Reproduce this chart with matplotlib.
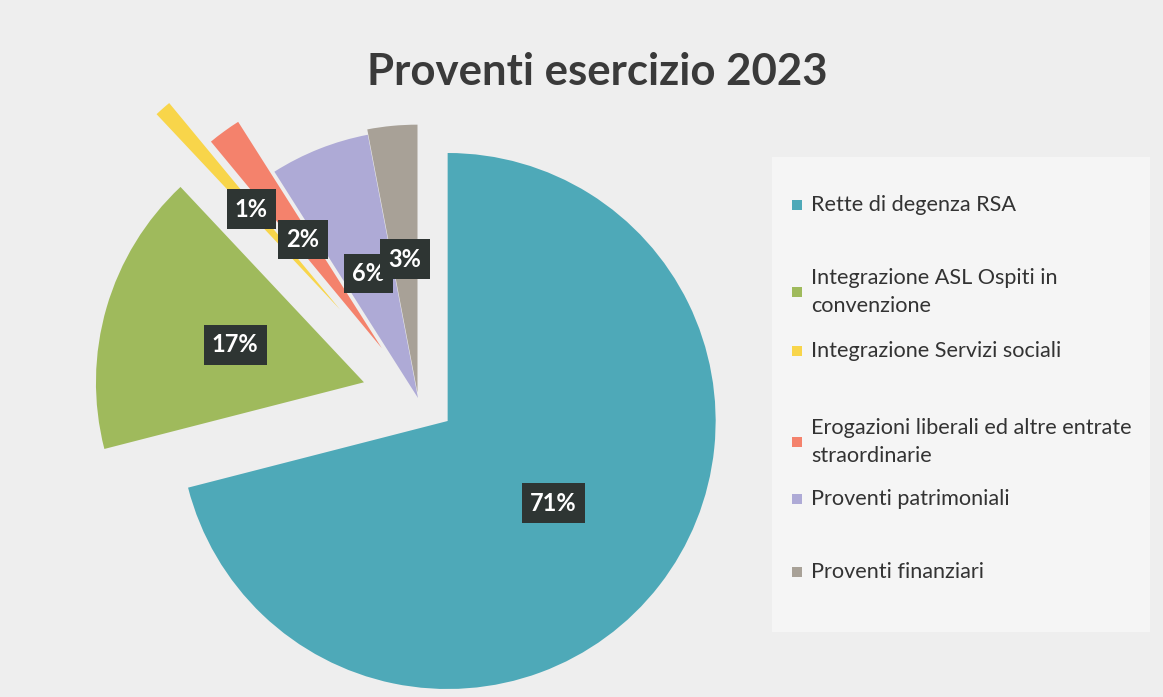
import matplotlib.pyplot as plt
from matplotlib.patches import Rectangle

# dati
labels = ['Rette di degenza RSA',
          'Integrazione ASL Ospiti in\nconvenzione',
          'Integrazione Servizi sociali',
          'Erogazioni liberali ed altre entrate\nstraordinarie',
          'Proventi patrimoniali',
          'Proventi finanziari']
values = [71, 17, 1, 2, 6, 3]
explode = [0.14, 0.21, 0.44, 0.23, 0.0, 0.02]
colors = ['#4ea9b8', '#9fba5c', '#f8d54a', '#f4826c', '#aeaad6', '#a8a197']

# layout legenda (pixel dall'alto)
legend_y = [205, 292, 351, 442, 499, 572]

W, H = 1163, 697
R = 268
fig = plt.figure(figsize=(W / 100, H / 100), dpi=100)
fig.patch.set_facecolor('#eeeeee')

ax = fig.add_axes([0, 0, 1, 1])
ax.set_facecolor('none')

# pannello legenda leggermente più chiaro
ax.add_patch(Rectangle((772, H - 632), 378, 475, facecolor='#f5f5f5',
                       edgecolor='none', zorder=0))

# explode in matplotlib è in unità dati -> scalato sul raggio
wedges, texts, autotexts = ax.pie(
    values, explode=[e * R for e in explode], colors=colors, startangle=90,
    counterclock=False, center=(418, H - 398), radius=R, autopct='%1.0f%%',
    pctdistance=0.5, frame=True, wedgeprops=dict(linewidth=0),
    textprops=dict(color='white', fontsize=17, fontweight='bold', family='Lato'))

for t in autotexts:
    t.set_bbox(dict(boxstyle='square,pad=0.35', facecolor='#2e3533',
                    edgecolor='none'))

ax.set_xlim(0, W)
ax.set_ylim(0, H)
ax.set_aspect('equal')
ax.axis('off')

# legenda
for w, lab, y in zip(wedges, labels, legend_y):
    ax.add_patch(Rectangle((792, H - y - 5), 10, 10,
                           facecolor=w.get_facecolor(), edgecolor='none'))
    ax.text(811, H - y, lab, fontsize=15.6, family='Lato', color='#333333',
            va='center', ha='left', linespacing=1.5)

fig.text(597 / W, 1 - 72 / H, 'Proventi esercizio 2023', fontsize=31.5,
         fontweight='bold', family='Lato', color='#3a3a3a',
         ha='center', va='center')

fig.savefig('out.png', dpi=100, facecolor=fig.get_facecolor())
